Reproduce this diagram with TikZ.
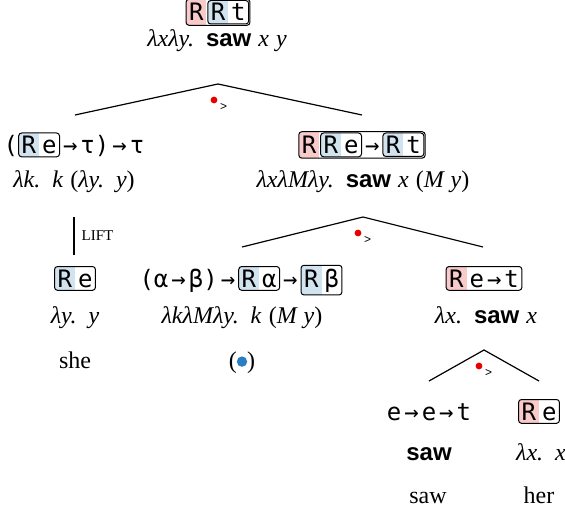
\documentclass[tikz,12pt,border=0pt]{standalone}
\usepackage{fontspec}
\setmainfont{Liberation Serif}
\newfontfamily\tyfont{DejaVu Sans Mono}
\newfontfamily\cnfont{Liberation Sans}

\definecolor{regred}{RGB}{248,202,202}
\definecolor{regblue}{RGB}{210,227,240}
\definecolor{dotred}{RGB}{232,0,0}
\definecolor{dotblue}{RGB}{42,125,195}

\newcounter{tybox}
% region type: shaded R, then the rest, in a rounded frame
\newcommand{\rbox}[3][1.5pt]{{%
  \stepcounter{tybox}\edef\tyn{ty\arabic{tybox}}%
  \tikz[baseline=(\tyn r.base)]{%
    \node[anchor=base west, inner xsep=1.5pt, inner ysep=#1, outer sep=0pt] (\tyn r) at (0pt,0pt) {\vphantom{#3}\phantom{R}};
    \node[anchor=base west, inner xsep=#1, inner ysep=#1, outer sep=0pt] (\tyn t) at (\tyn r.base east) {\vphantom{R}#3};
    \begin{scope}
      \clip[rounded corners=1.5pt] (\tyn r.north west) rectangle (\tyn t.south east);
      \fill[#2] (\tyn r.north west) rectangle (\tyn r.south east);
    \end{scope}
    \node[anchor=base, inner sep=0pt] (\tyn l) at (\tyn r.base) {R};
    \draw[line width=0.5pt, rounded corners=1.5pt] (\tyn r.north west) rectangle (\tyn t.south east);
  }}}
\newcommand{\tarr}{\kern1.5pt→\kern1.5pt}
\newcommand{\cn}[1]{{\cnfont\upshape\bfseries #1}}
\newcommand{\dt}{.\hspace{6pt}}
\newcommand{\ap}{\hspace{3.5pt}}
\newcommand{\bdot}{\tikz[baseline=-3.2pt]\fill[dotblue] (0pt,0pt) circle (2.6pt);}

\tikzset{
  ty/.style={font=\tyfont, anchor=base, inner sep=0pt},
  term/.style={font=\itshape, anchor=base, inner sep=0pt},
  word/.style={anchor=base, inner sep=0pt},
  redmode/.style={circle, fill=dotred, inner sep=0pt, minimum size=3.4pt,
    label={[font=\fontsize{6}{6}\selectfont\cnfont, inner sep=0pt, label distance=1.2pt]-30:>}},
}

\begin{document}
\begin{tikzpicture}[x=0.5pt, y=-0.5pt, line width=0.6pt]
  \useasboundingbox (0,0) rectangle (565,512);

  % root
  \node[ty] (s-ty) at (218,21) {\rbox[0.4pt]{regred}{\rbox{regblue}{t}}};
  \node[term] (s-tm) at (217,47) {λxλy\dt\cn{saw}\ap x\ap y};
  \coordinate (s-top) at (218,84);
  \coordinate (s-l) at (75,115);
  \coordinate (s-r) at (362,115);
  \draw (s-l) -- (s-top) -- (s-r);
  \node[redmode] (s-op) at (214,100) {};

  % subject side
  \node[ty] (np-ty) at (74,153.5) {(\rbox{regblue}{e}\tarr τ)\tarr τ};
  \node[term] (np-tm) at (74,188) {λk\dt k\ap\textup{(}λy\dt y\textup{)}};
  \coordinate (lift-a) at (74,217);
  \coordinate (lift-b) at (74,255);
  \draw (lift-a) -- (lift-b);
  \node[anchor=west, inner sep=0pt, font=\fontsize{7.5}{8}\selectfont] (lift) at (81,236) {LIFT};
  \node[ty] (she-ty) at (75,287) {\rbox{regblue}{e}};
  \node[term] (she-tm) at (75,323) {λy\dt y};
  \node[word] (she) at (75,368) {she};

  % verb phrase
  \node[ty] (vp-ty) at (362,153.5) {\rbox[0.4pt]{regred}{\rbox{regblue}{e}\tarr\rbox{regblue}{t}}};
  \node[term] (vp-tm) at (363,188) {λxλMλy\dt\cn{saw}\ap x\ap\textup{(}M\ap y\textup{)}};
  \coordinate (vp-top) at (363,217);
  \coordinate (vp-l) at (242,247);
  \coordinate (vp-r) at (483,247);
  \draw (vp-l) -- (vp-top) -- (vp-r);
  \node[redmode] (vp-op) at (358,233) {};

  \node[ty] (m-ty) at (241,287) {(α\tarr β)\tarr\rbox{regblue}{α}\tarr\rbox{regblue}{β}};
  \node[term] (m-tm) at (242,323) {λkλMλy\dt k\ap\textup{(}M\ap y\textup{)}};
  \node[word] (m-w) at (242,368) {(\bdot)};

  \node[ty] (v-ty) at (484,287) {\rbox{regred}{e\tarr t}};
  \node[term] (v-tm) at (486,323) {λx\dt\cn{saw}\ap x};
  \coordinate (v-top) at (484,350);
  \coordinate (v-l) at (429,381);
  \coordinate (v-r) at (539,381);
  \draw (v-l) -- (v-top) -- (v-r);
  \node[redmode] (v-op) at (479,366) {};

  % leaves
  \node[ty] (saw-ty) at (429,420) {e\tarr e\tarr t};
  \node[word] (saw-tm) at (429,460) {\cn{saw}};
  \node[word] (saw) at (428,503) {saw};
  \node[ty] (her-ty) at (539,420) {\rbox{regred}{e}};
  \node[term] (her-tm) at (541,460) {λx\dt x};
  \node[word] (her) at (539,503) {her};
\end{tikzpicture}
\end{document}
